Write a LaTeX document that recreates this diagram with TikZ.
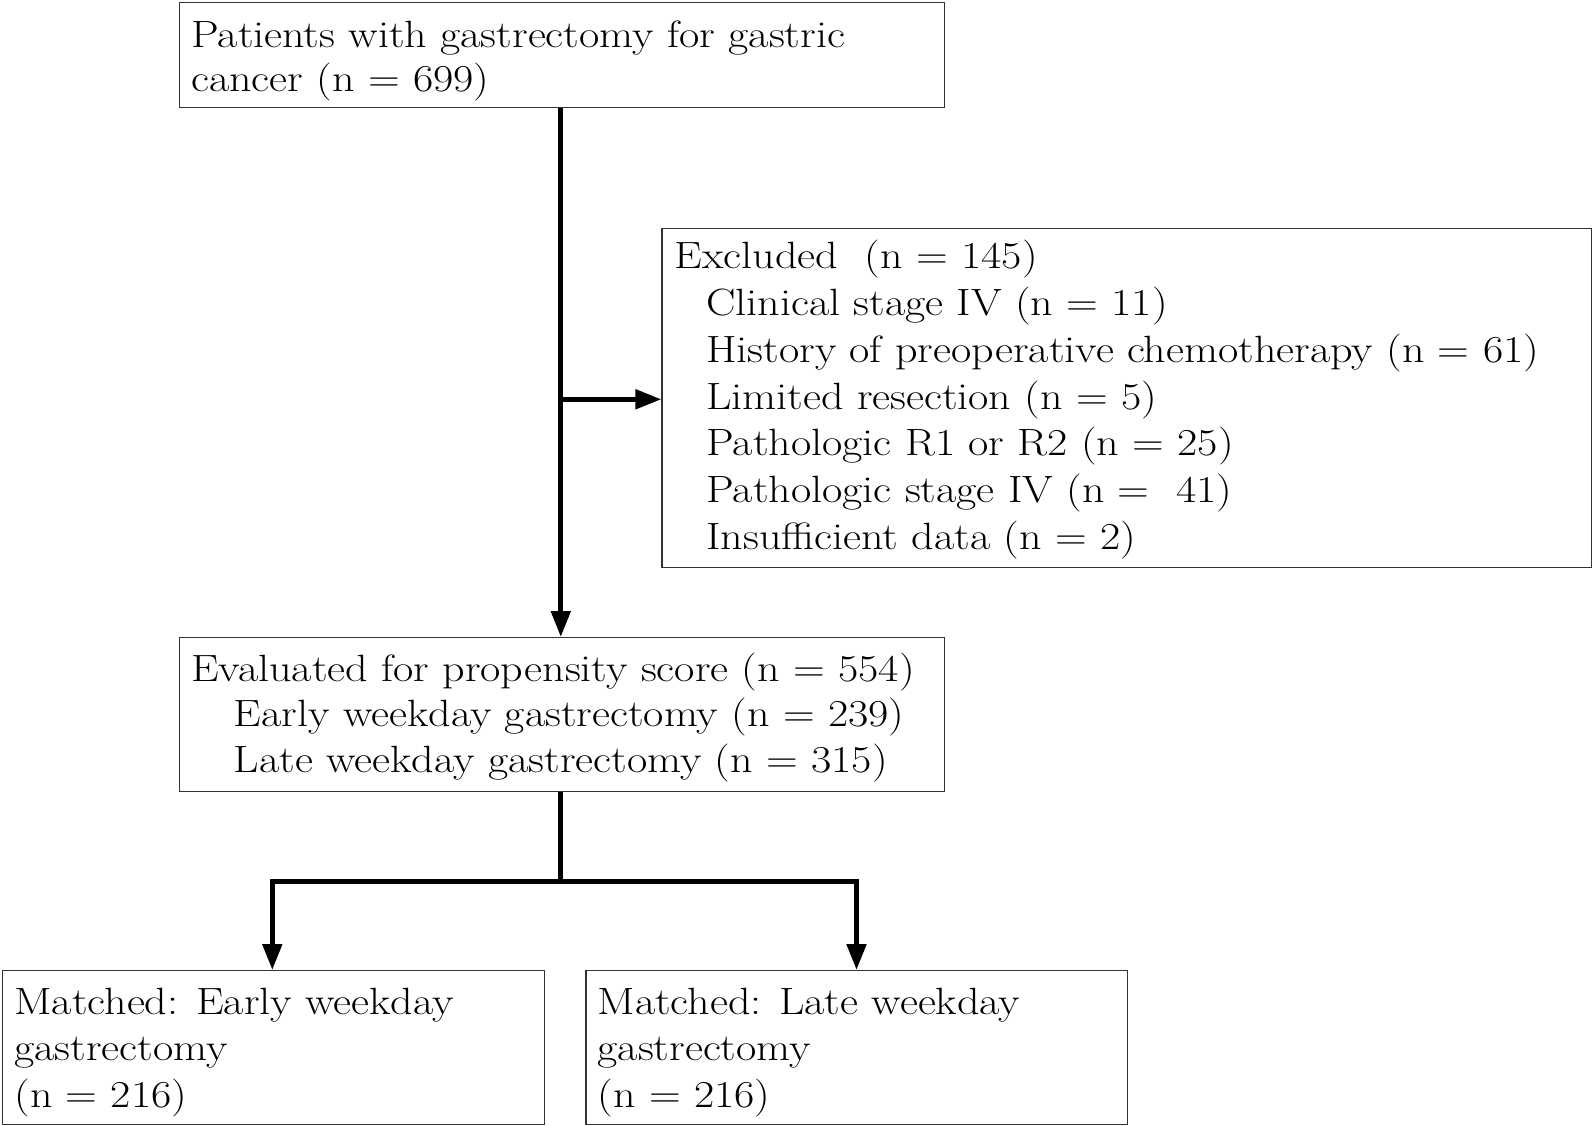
\documentclass[tikz,border=0pt]{standalone}
\usepackage{graphicx}
\usetikzlibrary{arrows.meta}
\newcommand{\widetext}[1]{\scalebox{1.16}[1]{#1}}
\begin{document}
\begin{tikzpicture}[x=1pt,y=-1pt,
  box/.style={draw=black!80,line width=1.4pt,rectangle,inner sep=0pt},
  txt/.style={anchor=base west,inner sep=0pt,font=\fontsize{38}{46}\selectfont},
  flow/.style={line width=5pt},
  arr/.style={flow,-{Triangle[length=26pt,width=19pt]}}]
\useasboundingbox (0,0) rectangle (1593,1126);
% boxes
\node[box,minimum width=765pt,minimum height=104.7pt,anchor=north west] (b1) at (178.8,2) {};
\node[box,minimum width=929.6pt,minimum height=339.4pt,anchor=north west] (ex) at (661.4,227.6) {};
\node[box,minimum width=765pt,minimum height=153.5pt,anchor=north west] (b3) at (178.8,637) {};
\node[box,minimum width=541.6pt,minimum height=153.7pt,anchor=north west] (b4) at (2,970) {};
\node[box,minimum width=541.5pt,minimum height=153.7pt,anchor=north west] (b5) at (585.2,970) {};
% texts
\node[txt] (t11) at (191,47.8) {\widetext{Patients with gastrectomy for gastric}};
\node[txt] (t12) at (191,91.4) {\widetext{cancer (n = 699)}};
\node[txt] (e0) at (674.6,269) {\widetext{Excluded\ \ (n = 145)}};
\node[txt] (e1) at (706,315.7) {\widetext{Clinical stage IV (n = 11)}};
\node[txt] (e2) at (706,362.4) {\widetext{History of preoperative chemotherapy (n = 61)}};
\node[txt] (e3) at (706,409.1) {\widetext{Limited resection (n = 5)}};
\node[txt] (e4) at (706,455.8) {\widetext{Pathologic R1 or R2 (n = 25)}};
\node[txt] (e5) at (706,502.5) {\widetext{Pathologic stage IV (n =\ \ 41)}};
\node[txt] (e6) at (706,549.2) {\widetext{Insufficient data (n = 2)}};
\node[txt] (t31) at (191,681) {\widetext{Evaluated for propensity score (n = 554)}};
\node[txt] (t32) at (233.7,726.7) {\widetext{Early weekday gastrectomy (n = 239)}};
\node[txt] (t33) at (233.7,772.4) {\widetext{Late weekday gastrectomy (n = 315)}};
\node[txt] (t41) at (14.2,1014) {\widetext{Matched: Early weekday}};
\node[txt] (t42) at (14.2,1060.5) {\widetext{gastrectomy}};
\node[txt] (t43) at (14.2,1107) {\widetext{(n = 216)}};
\node[txt] (t51) at (597.4,1014) {\widetext{Matched: Late weekday}};
\node[txt] (t52) at (597.4,1060.5) {\widetext{gastrectomy}};
\node[txt] (t53) at (597.4,1107) {\widetext{(n = 216)}};
% connectors
\coordinate (mid) at (560.8,399.3);
\coordinate (split) at (560.8,881.9);
\draw[arr] (b1.south -| mid) -- (b3.north -| mid);
\draw[arr] (mid) -- (mid -| ex.west);
\draw[flow] (b3.south -| split) -- (split);
\draw[arr,line join=miter] (split) -- (272.3,881.9) -- (272.3,970);
\draw[arr,line join=miter] (split) -- (856.5,881.9) -- (856.5,970);
\end{tikzpicture}
\end{document}
